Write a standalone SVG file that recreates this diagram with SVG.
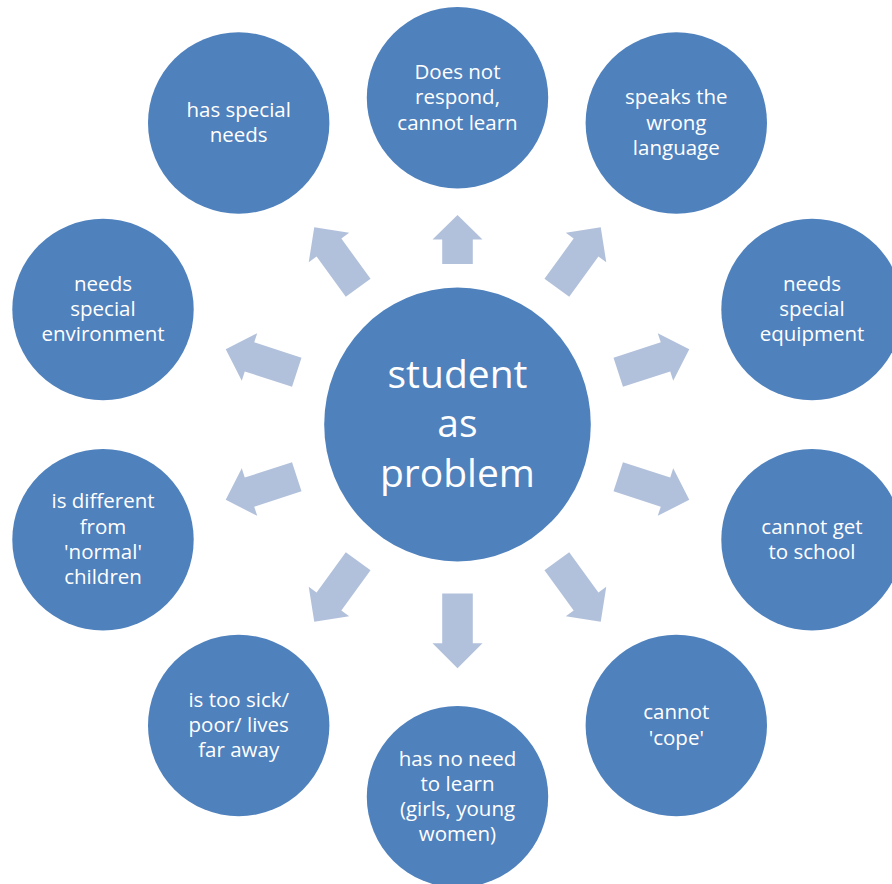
<svg xmlns="http://www.w3.org/2000/svg" width="892" height="884" viewBox="0 0 892 884">
<defs>
<style>
.node{fill:#4F81BD}
.arrow{fill:#B2C1DB}
.t{font-family:"Open Sans","Noto Sans","Liberation Sans",sans-serif;font-size:20.5px;fill:#FFFFFF;text-anchor:middle}
.tc{font-family:"Open Sans","Noto Sans","Liberation Sans",sans-serif;font-size:39px;fill:#FFFFFF;text-anchor:middle}
</style>
<path id="arrowL" d="M0,-15.3 L49.7,-15.3 L49.7,-25 L74.7,0 L49.7,25 L49.7,15.3 L0,15.3 Z"/>
<path id="arrowS" d="M0,-15.3 L24.5,-15.3 L24.5,-25 L49,0 L24.5,25 L24.5,15.3 L0,15.3 Z"/>
</defs>
<rect width="892" height="884" fill="#FFFFFF"/>
<g id="connectors" class="arrow">
<use href="#arrowS" transform="translate(457.5,424.5) rotate(-90) translate(160.5,0)"/>
<use href="#arrowL" transform="translate(457.5,424.5) rotate(-54) translate(169,0)"/>
<use href="#arrowL" transform="translate(457.5,424.5) rotate(-18) translate(169,0)"/>
<use href="#arrowL" transform="translate(457.5,424.5) rotate(18) translate(169,0)"/>
<use href="#arrowL" transform="translate(457.5,424.5) rotate(54) translate(169,0)"/>
<use href="#arrowL" transform="translate(457.5,424.5) rotate(90) translate(169,0)"/>
<use href="#arrowL" transform="translate(457.5,424.5) rotate(126) translate(169,0)"/>
<use href="#arrowL" transform="translate(457.5,424.5) rotate(162) translate(169,0)"/>
<use href="#arrowL" transform="translate(457.5,424.5) rotate(198) translate(169,0)"/>
<use href="#arrowL" transform="translate(457.5,424.5) rotate(234) translate(169,0)"/>
</g>
<g id="center">
<ellipse class="node" cx="457.5" cy="424.5" rx="133.3" ry="137"/>
<text class="tc" x="457.5" y="388.3">student</text>
<text class="tc" x="457.5" y="437.3">as</text>
<text class="tc" x="457.5" y="486.7">problem</text>
</g>
<g id="n1">
<circle class="node" cx="457.5" cy="97.8" r="90.7"/>
<text class="t" x="457.5" y="79.1">Does not</text>
<text class="t" x="457.5" y="104.3">respond,</text>
<text class="t" x="457.5" y="129.5">cannot learn</text>
</g>
<g id="n2">
<circle class="node" cx="676.3" cy="123" r="90.7"/>
<text class="t" x="676.3" y="104.3">speaks the</text>
<text class="t" x="676.3" y="129.5">wrong</text>
<text class="t" x="676.3" y="154.7">language</text>
</g>
<g id="n3">
<circle class="node" cx="812" cy="309.5" r="90.7"/>
<text class="t" x="812" y="290.8">needs</text>
<text class="t" x="812" y="316">special</text>
<text class="t" x="812" y="341.2">equipment</text>
</g>
<g id="n4">
<circle class="node" cx="812" cy="539.7" r="90.7"/>
<text class="t" x="812" y="533.6">cannot get</text>
<text class="t" x="812" y="558.8">to school</text>
</g>
<g id="n5">
<circle class="node" cx="676.3" cy="725.5" r="90.7"/>
<text class="t" x="676.3" y="719.4">cannot</text>
<text class="t" x="676.3" y="744.6">'cope'</text>
</g>
<g id="n6">
<circle class="node" cx="457.5" cy="796.8" r="90.7"/>
<text class="t" x="457.5" y="765.5">has no need</text>
<text class="t" x="457.5" y="790.7">to learn</text>
<text class="t" x="457.5" y="815.9">(girls, young</text>
<text class="t" x="457.5" y="841.1">women)</text>
</g>
<g id="n7">
<circle class="node" cx="238.7" cy="725.5" r="90.7"/>
<text class="t" x="238.7" y="706.8">is too sick/</text>
<text class="t" x="238.7" y="732">poor/ lives</text>
<text class="t" x="238.7" y="757.2">far away</text>
</g>
<g id="n8">
<circle class="node" cx="103" cy="539.7" r="90.7"/>
<text class="t" x="103" y="508.4">is different</text>
<text class="t" x="103" y="533.6">from</text>
<text class="t" x="103" y="558.8">'normal'</text>
<text class="t" x="103" y="584">children</text>
</g>
<g id="n9">
<circle class="node" cx="103" cy="309.5" r="90.7"/>
<text class="t" x="103" y="290.8">needs</text>
<text class="t" x="103" y="316">special</text>
<text class="t" x="103" y="341.2">environment</text>
</g>
<g id="n10">
<circle class="node" cx="238.7" cy="123" r="90.7"/>
<text class="t" x="238.7" y="116.9">has special</text>
<text class="t" x="238.7" y="142.1">needs</text>
</g>
</svg>
